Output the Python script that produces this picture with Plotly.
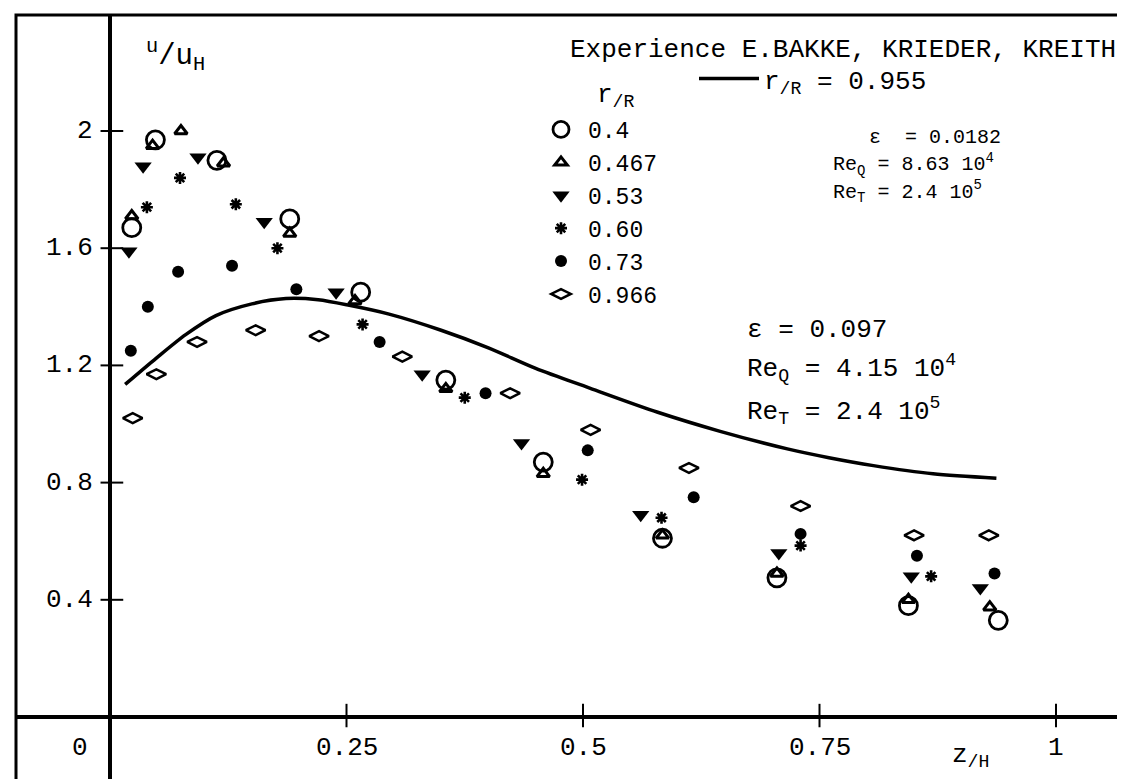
import plotly.graph_objects as go

# ---------------- data ----------------
x_r040 = [0.023, 0.048, 0.113, 0.190, 0.265, 0.355, 0.458, 0.584, 0.705, 0.844, 0.939]
y_r040 = [1.67, 1.97, 1.90, 1.70, 1.45, 1.15, 0.87, 0.61, 0.475, 0.38, 0.33]

x_r0467 = [0.023, 0.045, 0.075, 0.120, 0.190, 0.259, 0.355, 0.458, 0.584, 0.705, 0.844, 0.930]
y_r0467 = [1.71, 1.95, 2.00, 1.89, 1.65, 1.42, 1.12, 0.83, 0.62, 0.49, 0.40, 0.375]

x_r053 = [0.020, 0.035, 0.093, 0.163, 0.239, 0.330, 0.435, 0.561, 0.707, 0.847, 0.920]
y_r053 = [1.59, 1.88, 1.91, 1.69, 1.45, 1.17, 0.935, 0.69, 0.56, 0.48, 0.44]

x_r060 = [0.039, 0.074, 0.133, 0.177, 0.267, 0.375, 0.499, 0.583, 0.730, 0.868]
y_r060 = [1.74, 1.84, 1.75, 1.60, 1.34, 1.09, 0.81, 0.68, 0.585, 0.48]

x_r073 = [0.022, 0.040, 0.072, 0.129, 0.197, 0.285, 0.397, 0.505, 0.617, 0.730, 0.853, 0.935]
y_r073 = [1.25, 1.40, 1.52, 1.54, 1.46, 1.28, 1.105, 0.91, 0.75, 0.625, 0.55, 0.49]

x_r0966 = [0.024, 0.049, 0.092, 0.154, 0.221, 0.309, 0.423, 0.508, 0.612, 0.730, 0.850, 0.929]
y_r0966 = [1.02, 1.17, 1.28, 1.32, 1.30, 1.23, 1.105, 0.98, 0.85, 0.72, 0.62, 0.62]

x_curve = [0.016, 0.049, 0.080, 0.112, 0.150, 0.186, 0.220, 0.253, 0.295, 0.350, 0.400,
           0.450, 0.505, 0.579, 0.645, 0.716, 0.760, 0.807, 0.870, 0.937]
y_curve = [1.135, 1.225, 1.305, 1.37, 1.41, 1.428, 1.424, 1.405, 1.375, 1.32, 1.26,
           1.19, 1.125, 1.04, 0.975, 0.915, 0.885, 0.858, 0.83, 0.815]

x_tick_vals = [0.25, 0.5, 0.75, 1.0]
x_tick_text = ["0.25", "0.5", "0.75", "1"]
y_tick_vals = [0.4, 0.8, 1.2, 1.6, 2.0]
y_tick_text = ["0.4", "0.8", "1.2", "1.6", "2"]

FONT = "Liberation Mono"
FS = 26

# pixel -> data helpers (for text placement only)
def X(px):
    return (px - 102) / 946.0

def Y(py):
    return (709 - py) / 293.0

fig = go.Figure()

fig.add_trace(go.Scatter(x=x_curve, y=y_curve, mode="lines", name="r<sub>/R</sub> = 0.955",
                         line=dict(color="black", width=3.5, shape="spline", smoothing=0.8),
                         legend="legend2"))

series = [
    (x_r040, y_r040, "0.4", dict(symbol="circle-open", size=18, line=dict(width=2.8, color="black"))),
    (x_r0467, y_r0467, "0.467", dict(symbol="triangle-up-open", size=11, line=dict(width=3, color="black"))),
    (x_r053, y_r053, "0.53", dict(symbol="triangle-down", size=15, line=dict(width=0))),
    (x_r060, y_r060, "0.60", dict(symbol="asterisk-open", size=10, line=dict(width=2.6, color="black"))),
    (x_r073, y_r073, "0.73", dict(symbol="circle", size=12, line=dict(width=0))),
    (x_r0966, y_r0966, "0.966", dict(symbol="diamond-wide-open", size=14, line=dict(width=2.5, color="black"))),
]
for xs, ys, nm, mk in series:
    mk = dict(mk)
    mk["color"] = "black"
    fig.add_trace(go.Scatter(x=xs, y=ys, mode="markers", name=nm, marker=mk, legend="legend"))

XR = [X(8), X(1119)]
YR = [Y(777), Y(7)]

shapes = []
# frame
shapes.append(dict(type="rect", xref="paper", yref="paper", x0=0, x1=1, y0=0, y1=1,
                   line=dict(color="black", width=3)))
# axis lines
shapes.append(dict(type="line", xref="x", yref="paper", x0=0, x1=0, y0=0, y1=1,
                   line=dict(color="black", width=4)))
shapes.append(dict(type="line", xref="paper", yref="y", x0=0, x1=1, y0=0, y1=0,
                   line=dict(color="black", width=4)))
# ticks
for v in x_tick_vals:
    shapes.append(dict(type="line", xref="x", yref="y", x0=v, x1=v, y0=-0.035, y1=0.045,
                       line=dict(color="black", width=2)))
for v in y_tick_vals:
    shapes.append(dict(type="line", xref="x", yref="y", x0=-0.010, x1=0.014, y0=v, y1=v,
                       line=dict(color="black", width=2)))

ann = []
def txt(x, y, s, xanchor="left", size=FS, align="left"):
    ann.append(dict(x=x, y=y, xref="x", yref="y", text=s, showarrow=False, xanchor=xanchor,
                    yanchor="middle", align=align,
                    font=dict(family=FONT, size=size, color="black")))

for v, t in zip(x_tick_vals, x_tick_text):
    txt(v, Y(740), t, "center")
txt(X(72), Y(740), "0", "center")
for v, t in zip(y_tick_vals, y_tick_text):
    txt(X(87), v, t, "right")

txt(X(136), Y(47), "<sup>u</sup>/u<sub>H</sub>", size=29)
txt(X(1110), Y(42), "Experience E.BAKKE, KRIEDER, KREITH", "right")
txt(X(587), Y(88), "r<sub>/R</sub>")
S = '<span style="font-size:20px">'
txt(X(823), Y(158),
    S + "   ε  = 0.0182</span><br>" + S + "Re<sub>Q</sub> = 8.63 10<sup>4</sup></span><br>"
    + S + "Re<sub>T</sub> = 2.4 10<sup>5</sup></span>",
    size=21)
txt(X(737), Y(322), "ε = 0.097")
txt(X(737), Y(360), "Re<sub>Q</sub> = 4.15 10<sup>4</sup>")
txt(X(737), Y(403), "Re<sub>T</sub> = 2.4 10<sup>5</sup>")
txt(X(942), Y(748), "z<sub>/H</sub>")

fig.update_layout(
    width=1125, height=779,
    margin=dict(l=8, r=6, t=7, b=2),
    paper_bgcolor="white", plot_bgcolor="white",
    xaxis=dict(range=XR, showgrid=False, zeroline=False, showticklabels=False, showline=False, ticks=""),
    yaxis=dict(range=YR, showgrid=False, zeroline=False, showticklabels=False, showline=False, ticks=""),
    shapes=shapes,
    annotations=ann,
    legend=dict(x=(526 - 8) / 1111, y=1 - (100 - 7) / 770, xanchor="left", yanchor="top",
                font=dict(family=FONT, size=23, color="black"), bgcolor="rgba(0,0,0,0)",
                itemwidth=44, tracegroupgap=0),
    legend2=dict(x=(686 - 8) / 1111, y=1 - (47 - 7) / 770, xanchor="left", yanchor="top",
                 font=dict(family=FONT, size=FS, color="black"), bgcolor="rgba(0,0,0,0)",
                 itemwidth=60),
    showlegend=True,
)

fig.write_html("out.html")
